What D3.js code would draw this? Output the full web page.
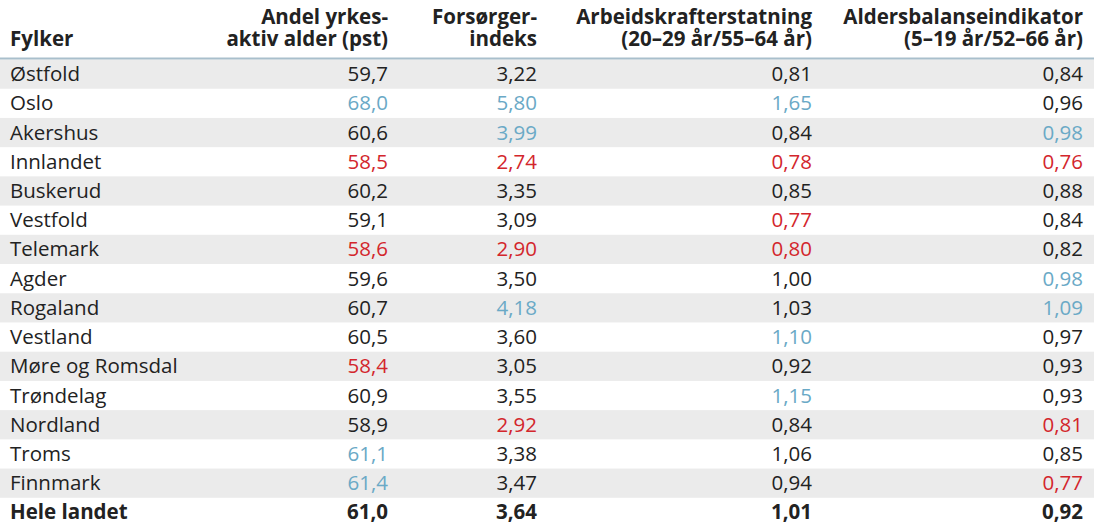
<!DOCTYPE html>
<html lang="no">
<head>
<meta charset="UTF-8">
<title>Fylker</title>
<script src="https://d3js.org/d3.v7.min.js"></script>
<style>
    body { margin: 0; background: white; font-family: "Open Sans", sans-serif; }
    text { fill: #222; }
</style>
</head>
<body>
<svg width="1094" height="524"></svg>
<script>
    // Data
    const fylker = ["Østfold", "Oslo", "Akershus", "Innlandet", "Buskerud", "Vestfold", "Telemark", "Agder",
        "Rogaland", "Vestland", "Møre og Romsdal", "Trøndelag", "Nordland", "Troms", "Finnmark"];
    const andel = ["59,7", "68,0", "60,6", "58,5", "60,2", "59,1", "58,6", "59,6", "60,7", "60,5", "58,4", "60,9", "58,9", "61,1", "61,4"];
    const forsorger = ["3,22", "5,80", "3,99", "2,74", "3,35", "3,09", "2,90", "3,50", "4,18", "3,60", "3,05", "3,55", "2,92", "3,38", "3,47"];
    const arbeid = ["0,81", "1,65", "0,84", "0,78", "0,85", "0,77", "0,80", "1,00", "1,03", "1,10", "0,92", "1,15", "0,84", "1,06", "0,94"];
    const alders = ["0,84", "0,96", "0,98", "0,76", "0,88", "0,84", "0,82", "0,98", "1,09", "0,97", "0,93", "0,93", "0,81", "0,85", "0,77"];
    // b = high (blue), r = low (red)
    const andelFlag = ["", "b", "", "r", "", "", "r", "", "", "", "r", "", "", "b", "b"];
    const forsorgerFlag = ["", "b", "b", "r", "", "", "r", "", "b", "", "", "", "r", "", ""];
    const arbeidFlag = ["", "b", "", "r", "", "r", "r", "", "", "b", "", "b", "", "", ""];
    const aldersFlag = ["", "", "b", "r", "", "", "", "b", "b", "", "", "", "r", "", "r"];
    const total = ["Hele landet", "61,0", "3,64", "1,01", "0,92"];
    const headers = [["Fylker"], ["Andel yrkes-", "aktiv alder (pst)"], ["Forsørger-", "indeks"],
        ["Arbeidskrafterstatning", "(20–29 år/55–64 år)"], ["Aldersbalanseindikator", "(5–19 år/52–66 år)"]];

    const svg = d3.select("svg");
    const colRight = [null, 388, 537, 812, 1083];
    const colour = { b: "#6aa9c6", r: "#d3262c", "": "#222" };

    const rows = fylker.concat([total[0]]);
    const y = d3.scaleBand().domain(d3.range(rows.length)).range([59.5, 527]);

    // Row stripes
    svg.append("g").selectAll("rect")
        .data(d3.range(fylker.length).filter(i => i % 2 === 0))
        .enter().append("rect")
        .attr("x", 0).attr("width", 1094)
        .attr("y", i => y(i)).attr("height", y.bandwidth())
        .attr("fill", "#ebebeb");

    // Header line
    svg.append("line").attr("x1", 0).attr("x2", 1094).attr("y1", 58.5).attr("y2", 58.5)
        .attr("stroke", "#a9bfcc").attr("stroke-width", 2);

    // Headers
    headers.forEach((lines, c) => {
        const t = svg.append("text")
            .attr("x", c === 0 ? 10 : colRight[c])
            .attr("text-anchor", c === 0 ? "start" : "end")
            .style("font-weight", "bold").style("font-size", "20.5px");
        const start = lines.length === 1 ? 46 : 24;
        lines.forEach((l, i) => t.append("tspan")
            .attr("x", c === 0 ? 10 : colRight[c]).attr("y", start + i * 22).text(l));
    });

    // Body
    const cols = [[andel, andelFlag], [forsorger, forsorgerFlag], [arbeid, arbeidFlag], [alders, aldersFlag]];
    const body = svg.append("g").style("font-size", "20.5px");
    const yc = i => y(i) + y.bandwidth() / 2 + 7;

    fylker.forEach((f, i) => {
        body.append("text").attr("x", 10).attr("y", yc(i)).text(f);
        cols.forEach(([vals, flags], c) => {
            body.append("text").attr("x", colRight[c + 1]).attr("y", yc(i))
                .attr("text-anchor", "end").style("fill", colour[flags[i]]).text(vals[i]);
        });
    });

    const ti = fylker.length;
    total.forEach((v, c) => {
        body.append("text").attr("x", c === 0 ? 10 : colRight[c]).attr("y", yc(ti))
            .attr("text-anchor", c === 0 ? "start" : "end")
            .style("font-weight", "bold").text(v);
    });
</script>
</body>
</html>
